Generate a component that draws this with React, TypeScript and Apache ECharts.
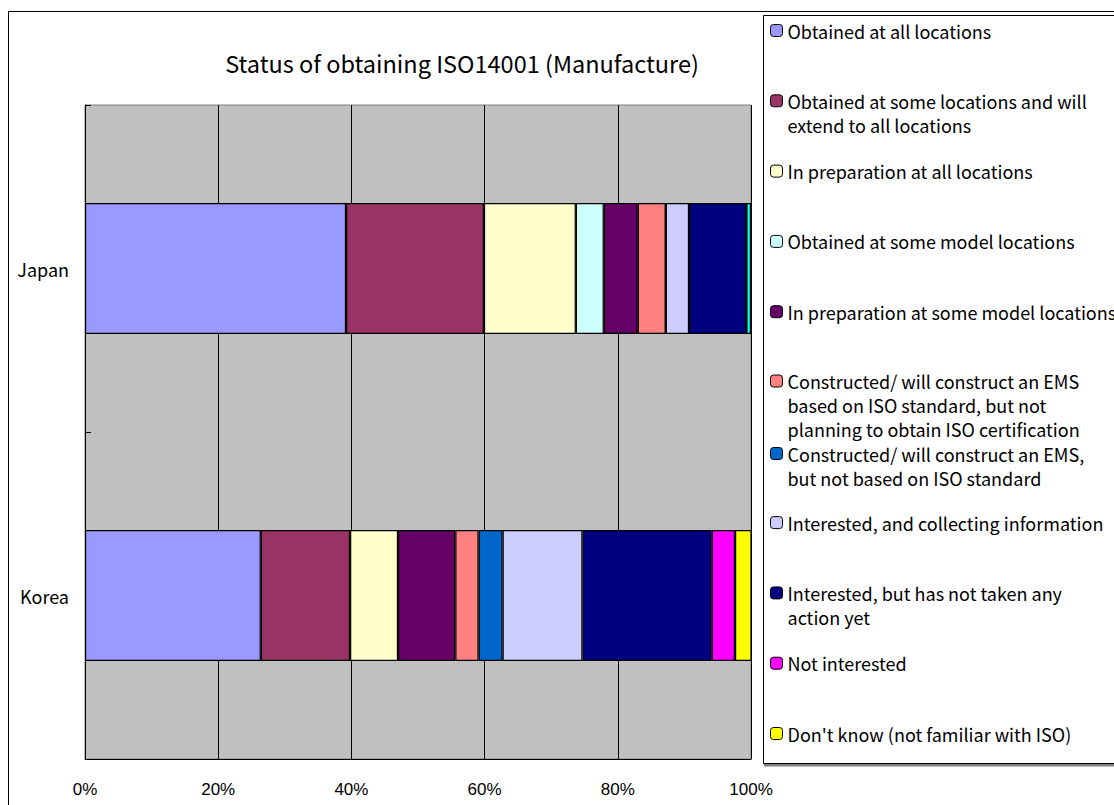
import React, { useEffect, useRef } from "react";
import * as echarts from "echarts";

const categories = ["Japan", "Korea"];

const seriesNames = [
  "Obtained at all locations",
  "Obtained at some locations and will extend to all locations",
  "In preparation at all locations",
  "Obtained at some model locations",
  "In preparation at some model locations",
  "Constructed/ will construct an EMS based on ISO standard, but not planning to obtain ISO certification",
  "Constructed/ will construct an EMS, but not based on ISO standard",
  "Interested, and collecting information",
  "Interested, but has not taken any action yet",
  "Not interested",
  "Don't know (not familiar with ISO)",
  "No answer",
];

const legendLabels = [
  "Obtained at all locations",
  "Obtained at some locations and will\nextend to all locations",
  "In preparation at all locations",
  "Obtained at some model locations",
  "In preparation at some model locations",
  "Constructed/ will construct an EMS\nbased on ISO standard, but not\nplanning to obtain ISO certification",
  "Constructed/ will construct an EMS,\nbut not based on ISO standard",
  "Interested, and collecting information",
  "Interested, but has not taken any\naction yet",
  "Not interested",
  "Don't know (not familiar with ISO)",
];

const japanValues = [39.2, 20.7, 13.8, 4.2, 5.1, 4.2, 0, 3.5, 8.6, 0, 0, 0.7];
const koreaValues = [26.4, 13.4, 7.2, 0, 8.6, 3.5, 3.6, 12.0, 19.4, 3.5, 2.5, 0];

const colors = [
  "#9999FF",
  "#993366",
  "#FFFFCC",
  "#CCFFFF",
  "#660066",
  "#FF8080",
  "#0066CC",
  "#CCCCFF",
  "#000080",
  "#FF00FF",
  "#FFFF00",
  "#00FFFF",
];

const titleText = "Status of obtaining ISO14001 (Manufacture)";

const GOTHIC = "'Noto Sans CJK JP', 'Noto Sans', sans-serif";
const AXIS_FONT = "'Liberation Sans', Arial, sans-serif";

export default function App() {
  const ref = useRef<HTMLDivElement>(null);

  useEffect(() => {
    document.body.style.margin = "0";
    if (!ref.current) return;
    const chart = echarts.init(ref.current, null, { renderer: "svg" });

    const LINE = 24;
    const nudge = [0, 0, 0, 0, 0, -1, 1.2, 0, 0, 0, 0];
    const legends = legendLabels.map((label, i) => {
      const n = label.split("\n").length;
      const yc = 30.5 + 70.3 * i + nudge[i];
      const shown = "\n".repeat(n - 1) + label;
      return {
        show: true,
        orient: "vertical",
        left: 770,
        top: yc - ((2 * n - 1) * LINE) / 2,
        padding: 0,
        itemWidth: 12,
        itemHeight: 12,
        selectedMode: false,
        data: [seriesNames[i]],
        formatter: () => shown,
        itemStyle: { borderColor: "#000", borderWidth: 1 },
        textStyle: {
          fontFamily: GOTHIC,
          fontSize: 18,
          color: "#000",
          lineHeight: LINE,
        },
      };
    });

    const series = seriesNames.map((name, i) => ({
      name,
      type: "bar",
      stack: "total",
      barWidth: "40%",
      data: [japanValues[i], koreaValues[i]],
      itemStyle: { color: colors[i], borderColor: "#000", borderWidth: 1.2 },
      emphasis: { disabled: true },
    }));

    chart.setOption({
      animation: false,
      backgroundColor: "#fff",
      title: {
        text: titleText,
        left: 457,
        textAlign: "center",
        top: 46,
        textStyle: {
          fontFamily: GOTHIC,
          fontSize: 23.5,
          fontWeight: "normal",
          color: "#000",
        },
      },
      graphic: [
        {
          type: "rect",
          shape: { x: 8.5, y: 11.5, width: 1300, height: 1000 },
          style: { fill: "none", stroke: "#000", lineWidth: 1 },
          silent: true,
          z: -1,
        },
        {
          type: "rect",
          shape: { x: 764, y: 17, width: 500, height: 749.5 },
          style: { fill: "#808080" },
          silent: true,
          z: -1,
        },
        {
          type: "rect",
          shape: { x: 763.5, y: 15.5, width: 500, height: 748 },
          style: { fill: "#fff", stroke: "#000", lineWidth: 1 },
          silent: true,
          z: -1,
        },
      ],
      legend: legends,
      grid: {
        left: 85,
        top: 105,
        width: 666,
        height: 654,
        show: true,
        backgroundColor: "#C0C0C0",
        borderColor: "#808080",
        borderWidth: 1,
        containLabel: false,
      },
      xAxis: {
        type: "value",
        min: 0,
        max: 100,
        interval: 20,
        axisLine: { show: true, lineStyle: { color: "#000", width: 1 } },
        axisTick: { show: false },
        splitLine: { show: true, lineStyle: { color: "#000", width: 1 } },
        axisLabel: {
          formatter: "{value}%",
          margin: 22,
          fontFamily: AXIS_FONT,
          fontSize: 17,
          color: "#000",
        },
      },
      yAxis: {
        type: "category",
        data: categories,
        inverse: true,
        axisLine: { show: true, lineStyle: { color: "#000", width: 1 } },
        axisTick: { show: true, inside: true, length: 6, lineStyle: { color: "#000" } },
        splitLine: { show: false },
        axisLabel: {
          margin: 16,
          fontFamily: GOTHIC,
          fontSize: 18,
          color: "#000",
        },
      },
      series,
    });

    return () => chart.dispose();
  }, []);

  return <div ref={ref} style={{ width: 1114, height: 805 }} />;
}
